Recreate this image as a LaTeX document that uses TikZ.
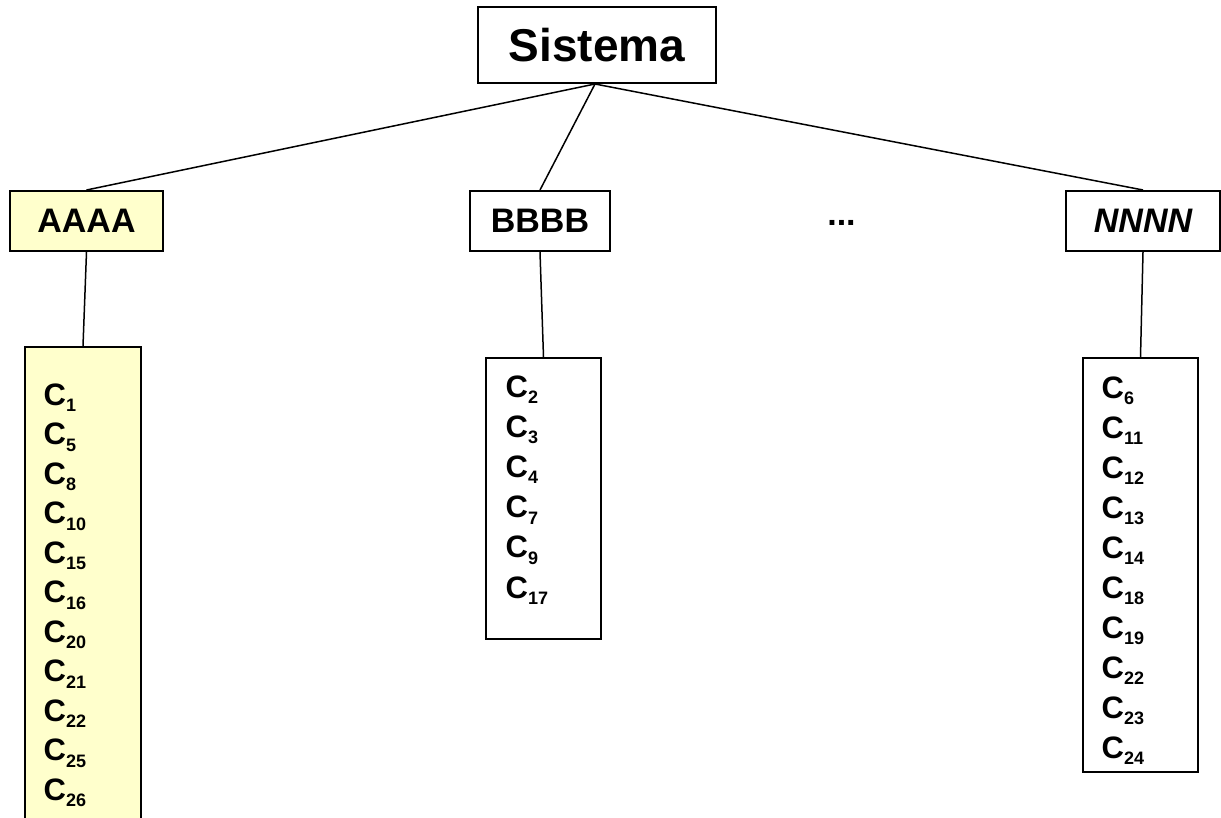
\documentclass[tikz,border=0pt]{standalone}
\usepackage{fontspec}
\setmainfont{Liberation Sans}
\definecolor{paleyellow}{HTML}{FFFFCC}
% component label: bold C with a lowered, smaller index
\newcommand{\cn}[1]{C\raisebox{-6.5pt}{\fontsize{18}{18}\selectfont #1}}
\begin{document}
\begin{tikzpicture}[x=1pt,y=-1pt,
  box/.style={draw, line width=2pt, inner sep=0pt},
  bigtext/.style={font=\bfseries\fontsize{46}{46}\selectfont},
  midtext/.style={font=\bfseries\fontsize{34}{34}\selectfont},
  itemtext/.style={font=\bfseries\fontsize{31}{31}\selectfont, inner sep=0pt, anchor=base west},
  conn/.style={line width=1.5pt}]
\useasboundingbox (0,0) rectangle (1221,818);

% root
\node[box, bigtext, minimum width=238pt, minimum height=76pt] (sys) at (597,45) {Sistema};

% second level
\node[box, midtext, fill=paleyellow, minimum width=153pt, minimum height=60pt] (a) at (86.5,221) {AAAA};
\node[box, midtext, minimum width=140pt, minimum height=60pt] (b) at (540,221) {BBBB};
\node[midtext, anchor=base, inner sep=0pt] (dots) at (841.5,226) {...};
\node[box, midtext, minimum width=154pt, minimum height=60pt] (n) at (1143,221) {\itshape NNNN};

% component lists
\node[box, fill=paleyellow, minimum width=116pt, minimum height=483pt] (la) at (83,588.5) {};
\node[box, minimum width=115pt, minimum height=281pt] (lb) at (543.5,498.5) {};
\node[box, minimum width=115pt, minimum height=414pt] (ln) at (1140.5,565) {};

\foreach \s [count=\i from 0] in {1,5,8,10,15,16,20,21,22,25,26}
  \node[itemtext] (ca\s) at (43.5,405+\i*39.5) {\cn{\s}};
\foreach \s [count=\i from 0] in {2,3,4,7,9,17}
  \node[itemtext] (cb\s) at (505.5,397+\i*40.2) {\cn{\s}};
\foreach \s [count=\i from 0] in {6,11,12,13,14,18,19,22,23,24}
  \node[itemtext] (cn\s) at (1101.5,398+\i*40) {\cn{\s}};

% connectors
\draw[conn] ([xshift=-2pt]sys.south) -- (a.north);
\draw[conn] ([xshift=-2pt]sys.south) -- (b.north);
\draw[conn] ([xshift=-2pt]sys.south) -- (n.north);
\draw[conn] (a.south) -- (la.north);
\draw[conn] (b.south) -- (lb.north);
\draw[conn] (n.south) -- (ln.north);
\end{tikzpicture}
\end{document}
